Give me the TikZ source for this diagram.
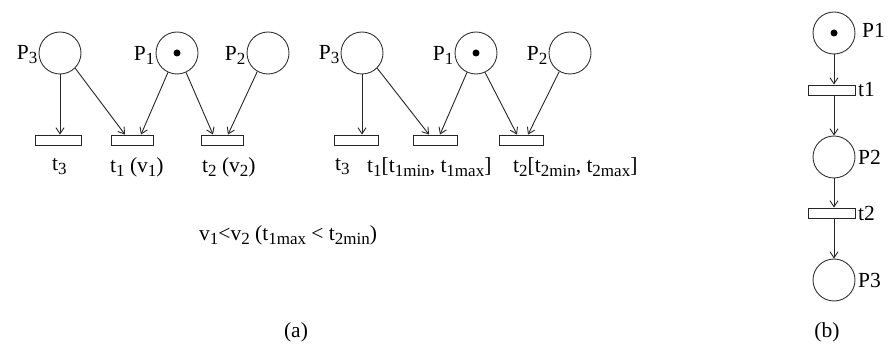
\documentclass[tikz,border=0pt]{standalone}
\usepackage{fontspec}
\setmainfont{Liberation Serif}
\usetikzlibrary{arrows.meta}
\newcommand\sbs[1]{\raisebox{-0.4ex}{\fontsize{17}{17}\selectfont #1}}
\begin{document}
\begin{tikzpicture}[x=1pt,y=-1pt,
  place/.style={circle,draw=black!80,line width=0.9pt,minimum size=42pt,inner sep=0pt},
  trans/.style={rectangle,draw=black!85,line width=0.9pt,minimum width=#1,minimum height=10pt,inner sep=0pt},
  trans/.default=42pt,
  arc/.style={line width=0.9pt,draw=black!85,-{Straight Barb[length=6pt,width=8pt]}},
  lbl/.style={inner sep=1pt,font=\fontsize{21.5}{21.5}\selectfont},
  token/.style={circle,fill=black,minimum size=7pt,inner sep=0pt}]
\useasboundingbox (0,0) rectangle (890,344);

% ---------- (a) left net ----------
\node[place] (aP3) at (60,53) {};
\node[place] (aP1) at (177,53) {};
\node[place] (aP2) at (268,53) {};
\node[token] (aK1) at (aP1) {};
\node[lbl,anchor=east] (laP3) at ([yshift=-2pt]aP3.west) {P\sbs{3}};
\node[lbl,anchor=east] (laP1) at ([yshift=-2pt]aP1.west) {P\sbs{1}};
\node[lbl,anchor=east] (laP2) at ([yshift=-2pt]aP2.west) {P\sbs{2}};
\node[trans=46pt] (at3) at (58,140) {};
\node[trans] (at1) at (132,140) {};
\node[trans] (at2) at (222,140) {};
\draw[arc] (aP3.south) -- (aP3.south |- at3.north);
\draw[arc] (aP3.-45) -- ([xshift=-7pt]at1.north);
\draw[arc] (aP1.-115) -- ([xshift=9pt]at1.north);
\draw[arc] (aP1.-65) -- ([xshift=-9pt]at2.north);
\draw[arc] (aP2.-120) -- ([xshift=6pt]at2.north);
\node[lbl,anchor=west] (lat3) at (51,167) {t\sbs{3}};
\node[lbl,anchor=west] (lat1) at (109,167) {t\sbs{1} (v\sbs{1})};
\node[lbl,anchor=west] (lat2) at (201,167) {t\sbs{2} (v\sbs{2})};

% ---------- (a) right net ----------
\node[place] (bP3) at (362,53) {};
\node[place] (bP1) at (476,53) {};
\node[place] (bP2) at (570,53) {};
\node[token] (bK1) at (bP1) {};
\node[lbl,anchor=east] (lbP3) at ([yshift=-2pt]bP3.west) {P\sbs{3}};
\node[lbl,anchor=east] (lbP1) at ([yshift=-2pt]bP1.west) {P\sbs{1}};
\node[lbl,anchor=east] (lbP2) at ([yshift=-2pt]bP2.west) {P\sbs{2}};
\node[trans=44pt] (bt3) at (356,140) {};
\node[trans=44pt] (bt1) at (435,140) {};
\node[trans=44pt] (bt2) at (521,140) {};
\draw[arc] (bP3.south) -- (bP3.south |- bt3.north);
\draw[arc] (bP3.-45) -- ([xshift=-6pt]bt1.north);
\draw[arc] (bP1.-115) -- ([xshift=5pt]bt1.north);
\draw[arc] (bP1.-65) -- ([xshift=-4pt]bt2.north);
\draw[arc] (bP2.-120) -- ([xshift=7pt]bt2.north);
\node[lbl,anchor=west] (lbt3) at (334,167) {t\sbs{3}};
\node[lbl,anchor=west] (lbt1) at (366,167) {t\sbs{1}[t\sbs{1min}, t\sbs{1max}]};
\node[lbl,anchor=west] (lbt2) at (512,167) {t\sbs{2}[t\sbs{2min}, t\sbs{2max}]};

\node[lbl,anchor=west] (cond) at (198,235) {v\sbs{1}<v\sbs{2} (t\sbs{1max} < t\sbs{2min})};
\node[lbl] (capa) at (296,332) {(a)};

% ---------- (b) ----------
\node[place] (cP1) at (834,33) {};
\node[token] (cK1) at (cP1) {};
\node[trans=47pt] (ct1) at (832,90) {};
\node[place] (cP2) at (834,157) {};
\node[trans=47pt] (ct2) at (832,213) {};
\node[place] (cP3) at (834,280) {};
\draw[arc] (cP1.south) -- (cP1.south |- ct1.north);
\draw[arc] (cP1.south |- ct1.south) -- (cP2.north);
\draw[arc] (cP2.south) -- (cP2.south |- ct2.north);
\draw[arc] (cP2.south |- ct2.south) -- (cP3.north);
\node[lbl,anchor=west] (lcP1) at (861,30) {P1};
\node[lbl,anchor=west] (lct1) at (857,90) {t1};
\node[lbl,anchor=west] (lcP2) at (857,157) {P2};
\node[lbl,anchor=west] (lct2) at (857,213) {t2};
\node[lbl,anchor=west] (lcP3) at (857,280) {P3};
\node[lbl] (capb) at (827,332) {(b)};
\end{tikzpicture}
\end{document}
